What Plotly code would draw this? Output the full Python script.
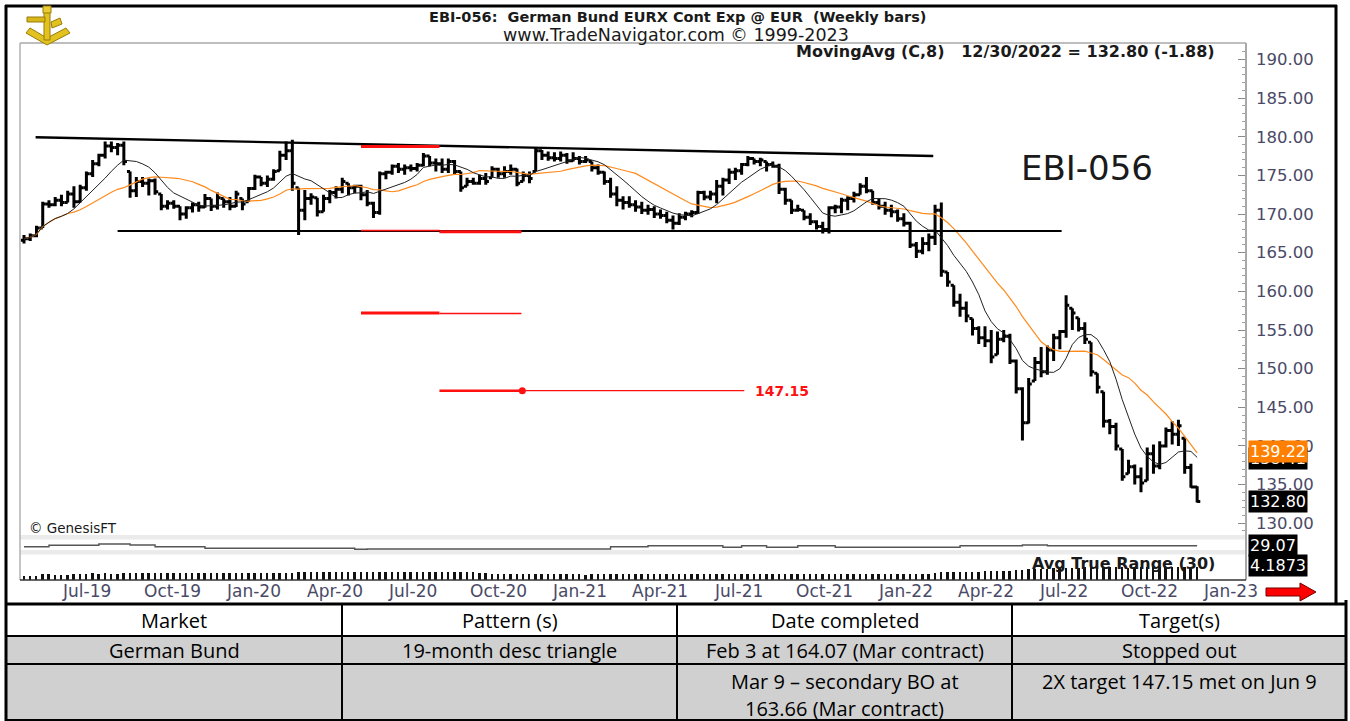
import pandas as pd
import numpy as np
import plotly.graph_objects as go

W, H = 1350, 721
def px(x):
    return x / W
def py(y):
    return 1 - y / H

# ---------------- data (weekly bars) ----------------
last_date = "2022-12-30"

opens = [
    166.6, 166.8, 167.2, 168.2, 171.3, 171.2, 171.8, 171.5, 172.6, 171.6,
    173.4, 175.2, 176.5, 177.6, 178.8, 178.6, 178.9, 175.5, 173.0, 174.2,
    174.0, 174.3, 172.6, 171.0, 171.4, 171.0, 170.0, 170.8, 171.2, 170.9,
    172.0, 171.0, 172.0, 171.6, 171.0, 172.0, 171.6, 173.3, 174.8, 174.0,
    174.5, 175.6, 177.6, 178.2, 173.4, 170.5, 172.0, 172.1, 170.3, 172.0,
    172.8, 173.2, 174.0, 173.4, 173.6, 172.5, 171.4, 170.2, 175.2, 175.4,
    176.2, 175.8, 176.0, 175.9, 176.3, 177.5, 176.6, 176.5, 175.8, 176.8,
    175.5, 173.6, 174.2, 174.0, 174.6, 174.7, 175.8, 175.2, 175.5, 175.8,
    174.2, 175.0, 175.5, 178.2, 177.6, 177.3, 177.2, 177.6, 176.9, 177.2,
    176.8, 176.8, 176.0, 175.4, 174.2, 172.6, 171.8, 171.5, 171.2, 170.9,
    170.5, 170.6, 170.0, 169.8, 169.2, 168.8, 169.6, 170.0, 170.2, 172.8,
    172.2, 172.6, 173.6, 174.4, 175.4, 175.6, 176.4, 177.2, 176.8, 176.8,
    176.4, 176.2, 173.2, 171.8, 170.5, 170.5, 169.6, 169.0, 168.4, 168.0,
    170.8, 170.9, 171.8, 172.0, 172.5, 173.6, 173.0, 171.5, 171.0, 170.5,
    170.3, 169.4, 168.8, 166.0, 165.2, 166.2, 167.0, 170.5, 162.5, 160.8,
    158.6, 157.8, 156.5, 155.2, 154.0, 153.6, 151.8, 153.8, 154.2, 151.0,
    147.4, 143.0, 148.4, 150.8, 149.6, 152.4, 154.0, 154.8, 157.8, 156.6,
    155.2, 153.4, 149.4, 147.0, 143.2, 142.5, 139.6, 136.4, 137.3, 136.0,
    135.5, 139.0, 137.4, 140.0, 142.0, 141.5, 141.0, 137.2, 134.68,
]
highs = [
    167.3, 167.5, 168.5, 171.6, 171.8, 172.2, 172.5, 173.0, 173.6, 173.8,
    175.5, 177.0, 177.8, 179.4, 179.4, 179.2, 179.4, 175.5, 174.8, 174.8,
    174.6, 174.6, 172.6, 171.8, 171.8, 171.0, 171.0, 171.5, 171.6, 172.6,
    172.0, 172.8, 172.0, 172.2, 173.0, 172.0, 173.5, 175.1, 174.8, 175.0,
    175.8, 178.2, 179.4, 179.6, 173.4, 173.1, 172.7, 172.1, 172.5, 173.1,
    173.6, 174.7, 174.0, 173.8, 173.8, 173.1, 171.6, 175.5, 175.6, 176.4,
    176.6, 176.4, 176.4, 176.6, 177.9, 177.5, 177.2, 177.2, 177.2, 177.0,
    175.5, 174.7, 174.7, 175.1, 175.3, 176.2, 176.0, 176.2, 176.4, 175.9,
    175.5, 175.5, 178.6, 178.3, 178.1, 178.0, 178.1, 177.9, 178.0, 177.5,
    177.5, 176.8, 176.4, 175.5, 174.7, 173.6, 172.3, 172.3, 171.8, 171.6,
    171.2, 171.0, 170.6, 170.3, 169.8, 170.1, 170.3, 170.5, 173.0, 173.0,
    173.0, 174.4, 174.7, 175.9, 176.0, 176.6, 177.5, 177.2, 177.3, 176.8,
    176.8, 176.5, 173.4, 171.8, 171.2, 170.5, 170.1, 169.2, 169.0, 171.0,
    171.2, 172.1, 172.3, 172.9, 174.0, 174.8, 173.0, 172.0, 171.6, 171.2,
    170.6, 170.1, 169.0, 166.4, 167.0, 167.5, 171.2, 171.5, 162.5, 160.8,
    159.7, 158.7, 156.5, 155.5, 155.5, 155.0, 154.8, 155.0, 154.5, 151.2,
    147.6, 148.8, 151.5, 152.8, 153.0, 154.5, 155.0, 159.5, 157.8, 156.6,
    156.0, 153.4, 149.4, 147.0, 143.5, 143.0, 139.6, 138.2, 137.6, 137.2,
    139.8, 140.2, 140.6, 142.4, 143.2, 143.4, 141.0, 137.7, 134.8,
]
lows = [
    166.2, 166.5, 167.0, 168.2, 170.8, 171.0, 171.0, 171.5, 170.8, 171.5,
    173.0, 174.8, 176.2, 177.2, 178.0, 177.6, 176.3, 172.1, 172.2, 173.5,
    172.4, 172.5, 170.5, 170.6, 170.7, 169.2, 169.4, 170.2, 170.3, 170.8,
    170.4, 170.6, 170.8, 170.5, 170.9, 170.5, 171.6, 173.1, 173.6, 173.5,
    174.3, 175.6, 177.0, 173.0, 167.3, 169.2, 171.2, 169.7, 170.3, 171.4,
    172.0, 172.7, 172.4, 172.7, 171.8, 171.0, 169.5, 169.9, 174.5, 175.1,
    175.3, 175.1, 175.5, 175.5, 176.2, 176.2, 175.5, 175.3, 175.3, 175.1,
    172.9, 173.6, 173.8, 173.8, 173.8, 174.7, 174.7, 174.7, 175.1, 173.6,
    174.2, 174.0, 175.5, 177.0, 176.9, 176.8, 176.8, 176.5, 176.8, 176.4,
    176.6, 175.5, 175.1, 173.8, 172.1, 171.0, 170.6, 170.8, 170.3, 170.0,
    169.9, 169.5, 169.4, 168.8, 168.0, 168.6, 169.2, 169.6, 170.0, 171.8,
    171.8, 171.4, 172.4, 173.9, 174.4, 175.1, 176.2, 176.4, 176.2, 175.5,
    176.0, 172.6, 171.2, 170.0, 170.3, 169.2, 168.6, 168.0, 167.5, 167.5,
    170.1, 170.1, 170.5, 171.5, 172.5, 172.7, 171.2, 170.6, 169.9, 169.6,
    169.0, 168.4, 165.6, 164.3, 164.8, 165.2, 166.0, 161.9, 160.6, 158.0,
    156.7, 156.0, 154.3, 153.2, 152.8, 150.7, 151.8, 153.4, 150.6, 146.8,
    140.7, 142.9, 148.4, 148.9, 149.2, 151.0, 152.5, 154.0, 155.0, 154.8,
    153.2, 149.0, 146.8, 142.4, 141.5, 139.4, 135.5, 136.4, 135.0, 134.0,
    135.5, 136.4, 137.0, 139.8, 140.2, 140.0, 136.4, 134.6, 132.7,
]
closes = [
    166.8, 167.2, 168.2, 171.3, 171.2, 171.8, 171.5, 172.6, 171.6, 173.4,
    175.2, 176.5, 177.6, 178.8, 178.6, 178.9, 176.8, 173.0, 174.2, 174.0,
    174.3, 172.9, 171.0, 171.4, 171.0, 170.0, 170.8, 171.2, 170.9, 172.0,
    171.0, 172.1, 171.6, 171.0, 172.6, 171.3, 173.3, 174.8, 174.0, 174.5,
    175.5, 177.6, 178.2, 174.0, 170.5, 172.0, 172.2, 170.3, 172.0, 172.8,
    173.2, 174.2, 173.4, 173.6, 172.5, 171.4, 170.2, 175.2, 175.4, 176.2,
    175.8, 176.0, 175.9, 176.3, 177.5, 176.6, 176.5, 175.8, 176.8, 175.5,
    173.4, 174.2, 174.0, 174.6, 174.2, 175.8, 175.2, 175.5, 175.8, 174.0,
    175.0, 174.6, 178.2, 177.6, 177.3, 177.2, 177.6, 176.9, 177.2, 176.8,
    177.0, 176.0, 175.4, 174.2, 172.6, 171.8, 171.5, 171.2, 170.9, 170.5,
    170.6, 170.0, 169.8, 169.2, 168.8, 169.6, 170.0, 170.2, 172.8, 172.2,
    172.6, 173.6, 174.4, 175.4, 175.6, 176.4, 177.2, 176.8, 177.0, 176.4,
    176.2, 173.2, 171.8, 170.5, 170.6, 169.6, 169.0, 168.4, 168.0, 170.8,
    170.9, 171.8, 172.0, 172.5, 173.6, 173.0, 171.5, 171.0, 170.5, 170.3,
    169.4, 168.8, 166.0, 165.2, 166.2, 167.0, 170.5, 162.6, 161.2, 158.6,
    157.8, 156.8, 155.2, 154.0, 153.6, 151.5, 153.8, 154.2, 151.0, 147.4,
    143.0, 148.0, 150.8, 149.6, 152.4, 154.0, 154.8, 158.2, 157.2, 155.2,
    153.8, 149.6, 147.6, 143.2, 142.5, 140.0, 136.0, 137.3, 136.0, 135.2,
    139.0, 137.4, 140.0, 142.0, 141.5, 142.6, 137.2, 134.68, 132.80,
]

# second indicator line in the thin strip (value 29.07 at the end)
aux_bar_index = [0, 4, 12, 17, 21, 29, 53, 55, 94, 100, 112, 115, 119, 124, 130, 150, 160, 164, 188]
aux_values = [28.07, 29.47, 30.77, 29.77, 28.07, 26.47, 25.47, 25.77, 28.07, 29.07,
              27.47, 29.07, 27.47, 29.07, 27.47, 29.07, 29.77, 29.07, 29.07]

# pattern lines
resistance_dates = ["2019-06-06", "2022-03-09"]
resistance_prices = [179.93, 177.51]
support_dates = ["2019-09-06", "2022-07-31"]
support_price = 167.81

red_x0 = ["2020-06-05", "2020-06-05", "2020-09-01", "2020-06-05", "2020-09-01", "2020-09-01", "2020-12-03"]
red_x1 = ["2020-09-01", "2020-09-01", "2020-12-02", "2020-09-01", "2020-12-02", "2020-12-03", "2021-08-09"]
red_y = [178.74, 167.87, 167.70, 157.20, 157.15, 147.15, 147.15]
red_w = [3, 1.5, 3, 3, 1.5, 2.5, 1.3]
target_date = "2020-12-03"
target_price = 147.15
target_label = "147.15"

ma_fast_label = "138.41"
ma_slow_label = "139.22"
last_close_label = "132.80"
aux_label = "29.07"
atr_label = "4.1873"

month_labels = ["Jul-19", "Oct-19", "Jan-20", "Apr-20", "Jul-20", "Oct-20", "Jan-21", "Apr-21",
                "Jul-21", "Oct-21", "Jan-22", "Apr-22", "Jul-22", "Oct-22", "Jan-23"]
month_dates = ["2019-07-01", "2019-10-01", "2020-01-01", "2020-04-01", "2020-07-01", "2020-10-01",
               "2021-01-01", "2021-04-01", "2021-07-01", "2021-10-01", "2022-01-01", "2022-04-01",
               "2022-07-01", "2022-10-01", "2023-01-01"]

table_headers = ["Market", "Pattern (s)", "Date completed", "Target(s)"]
table_row1 = ["German Bund", "19-month desc triangle", "Feb 3 at 164.07 (Mar contract)", "Stopped out"]
table_row2 = [[], [], ["Mar 9 \u2013 secondary BO at", "163.66 (Mar contract)"], ["2X target 147.15 met on Jun 9"]]

# ---------------- derived series ----------------
n = len(closes)
dates = pd.date_range(end=last_date, periods=n, freq="W-FRI")
c = pd.Series(closes)
h = pd.Series(highs)
l = pd.Series(lows)
ma8 = c.rolling(8, min_periods=1).mean()
ma_slow = c.rolling(17, min_periods=1).mean()
pc = c.shift(1)
tr = pd.concat([h - l, (h - pc).abs(), (l - pc).abs()], axis=1).max(axis=1)
atr = tr.rolling(30, min_periods=1).mean()
aux_dates = [dates[i] for i in aux_bar_index]

FONT = "DejaVu Sans"
TXT = "#1a1a1a"
AXT = "#4a4a66"

fig = go.Figure()

fig.add_trace(go.Ohlc(
    x=dates, open=opens, high=highs, low=lows, close=closes,
    increasing=dict(line=dict(color="black", width=3)),
    decreasing=dict(line=dict(color="black", width=3)),
    tickwidth=0.5, hoverinfo="skip", xaxis="x", yaxis="y"))

fig.add_trace(go.Scatter(x=dates, y=ma_slow, mode="lines",
                         line=dict(color="#ff8a1c", width=1.2), hoverinfo="skip"))
fig.add_trace(go.Scatter(x=dates, y=ma8, mode="lines",
                         line=dict(color="#222222", width=1), hoverinfo="skip"))

# pattern lines
fig.add_trace(go.Scatter(x=resistance_dates, y=resistance_prices, mode="lines",
                         line=dict(color="black", width=2.4), hoverinfo="skip"))
fig.add_trace(go.Scatter(x=support_dates, y=[support_price, support_price], mode="lines",
                         line=dict(color="black", width=2.2), hoverinfo="skip"))
for x0, x1, yv, wv in zip(red_x0, red_x1, red_y, red_w):
    fig.add_trace(go.Scatter(x=[x0, x1], y=[yv, yv], mode="lines",
                             line=dict(color="#ff1010", width=wv), hoverinfo="skip"))
fig.add_trace(go.Scatter(x=[target_date], y=[target_price], mode="markers",
                         marker=dict(color="#ff1010", size=7), hoverinfo="skip"))

# lower strip: aux line and ATR histogram
fig.add_trace(go.Scatter(x=aux_dates, y=aux_values, mode="lines", line_shape="hv",
                         line=dict(color="#555555", width=1.4), xaxis="x2", yaxis="y3",
                         hoverinfo="skip"))
fig.add_trace(go.Bar(x=dates, y=atr, xaxis="x2", yaxis="y2",
                     marker=dict(color="#111111", line=dict(width=0)),
                     width=2.2 * 24 * 3600 * 1000, hoverinfo="skip"))

x_range = [dates[0] - pd.Timedelta(days=4.5), dates[-1] + pd.Timedelta(days=54.8)]

fig.update_layout(
    width=W, height=H, margin=dict(l=0, r=0, t=0, b=0),
    paper_bgcolor="white", plot_bgcolor="rgba(0,0,0,0)", showlegend=False,
    font=dict(family=FONT, color=TXT),
    xaxis=dict(domain=[px(20), px(1246)], range=x_range, anchor="y",
               showticklabels=False, showgrid=False, zeroline=False, ticks="",
               rangeslider=dict(visible=False), showline=False),
    yaxis=dict(domain=[py(536), py(43)], range=[128.35, 192.13], side="right", anchor="x",
               ticks="inside", ticklen=8, tickwidth=1, tickcolor="#8a8a8a",
               dtick=5, tick0=0, tickformat=".2f", showline=False, showgrid=False,
               zeroline=False, ticklabelstandoff=9,
               minor=dict(ticks="inside", ticklen=4, dtick=1, tickcolor="#a0a0a0", showgrid=False),
               tickfont=dict(family=FONT, size=16.5, color=AXT)),
    xaxis2=dict(domain=[px(20), px(1246)], matches="x", anchor="y2", visible=False),
    yaxis2=dict(domain=[py(580), py(539)], range=[0, 11.5], anchor="x2", visible=False),
    yaxis3=dict(domain=[py(553), py(539)], range=[21.77, 35.77], anchor="x2", visible=False),
    bargap=0,
)

shapes = []
def line(x0, y0, x1, y1, color, w, layer="above"):
    shapes.append(dict(type="line", xref="paper", yref="paper", x0=px(x0), y0=py(y0),
                       x1=px(x1), y1=py(y1), line=dict(color=color, width=w), layer=layer))
def rect(x0, y0, x1, y1, fill, layer="below"):
    shapes.append(dict(type="rect", xref="paper", yref="paper", x0=px(x0), y0=py(y0),
                       x1=px(x1), y1=py(y1), fillcolor=fill, line=dict(width=0), layer=layer))
def path(pts, fill, lc, lw):
    d = "M " + " L ".join(f"{px(a):.5f},{py(b):.5f}" for a, b in pts) + " Z"
    shapes.append(dict(type="path", xref="paper", yref="paper", path=d, fillcolor=fill,
                       line=dict(color=lc, width=lw), layer="above"))

# strip bands
rect(20, 535, 1246, 539.5, "#ebebeb")
rect(20, 550, 1246, 554.5, "#ebebeb")
# plot frame
line(20, 43, 1246, 43, "#a8a8a8", 1.5)
line(20, 43, 20, 580, "#b0b0b0", 1.5)
line(1246, 43, 1246, 580, "#a8a8a8", 2)
line(20, 580, 1246, 580, "#333333", 1.5)
# outer frame
line(5, 6, 1337, 6, "black", 3)
line(6, 5, 6, 721, "black", 3)
line(1336, 5, 1336, 604, "black", 3)
line(1346, 600, 1346, 721, "black", 3)
# table
rect(6, 636, 1346, 721, "#d0d0d0")
line(5, 604, 1347, 604, "black", 3)
line(6, 636, 1346, 636, "black", 2)
line(6, 664, 1346, 664, "black", 2)
line(6, 720, 1346, 720, "black", 2)
for xv in [342, 677, 1012]:
    line(xv, 604, xv, 721, "black", 2)

# red arrow
path([(1266, 588), (1300, 588), (1300, 583), (1316, 592), (1300, 601), (1300, 596), (1266, 596)],
     "#ff0000", "#700000", 1)
# logo (sextant)
path([(26, 33), (47, 45), (70, 33), (66, 28), (47, 38), (30, 28)], "#e2c21e", "#9a7b0a", 1)
path([(44, 12), (50, 12), (50, 40), (44, 40)], "#e2c21e", "#9a7b0a", 1)
path([(27, 17), (45, 17), (45, 22), (27, 22)], "#d8b818", "#9a7b0a", 1)
path([(43, 6), (51, 6), (51, 13), (43, 13)], "#e8cc30", "#9a7b0a", 1)
path([(51, 22), (60, 18), (62, 24), (52, 28)], "#e2c21e", "#9a7b0a", 1)
fig.update_layout(shapes=shapes)

ann = []
def text(x, y, s, size, bold=False, color=TXT, xanchor="center", family=FONT):
    ann.append(dict(x=px(x), y=py(y), xref="paper", yref="paper", text=f"<b>{s}</b>" if bold else s,
                    showarrow=False, xanchor=xanchor, yanchor="middle",
                    font=dict(family=family, size=size, color=color)))

NB = "\u00a0"
text(677, 17, f"EBI-056:{NB}{NB}German Bund EURX Cont Exp @ EUR{NB}{NB}(Weekly bars)", 14.5, bold=True)
text(676, 35, "www.TradeNavigator.com \u00a9 1999-2023", 17.5)
text(1217, 52, f"MovingAvg (C,8){NB}{NB}{NB}12/30/2022 = 132.80 (-1.88)", 16, bold=True, xanchor="right")
text(1087, 168, "EBI-056", 34)
text(27, 528, "\u00a9 GenesisFT", 13.5, xanchor="left")
text(1217, 563, "Avg True Range (30)", 16, bold=True, xanchor="right")

# month labels
for lab, d in zip(month_labels, month_dates):
    ann.append(dict(x=d, y=py(591), xref="x", yref="paper", text=lab, showarrow=False,
                    xanchor="left", yanchor="middle", xshift=2,
                    font=dict(family=FONT, size=17, color=AXT)))

# target label
ann.append(dict(x=red_x1[-1], y=target_price, xref="x", yref="y", text=f"<b>{target_label}</b>",
                showarrow=False, xanchor="left", yanchor="middle", xshift=9,
                font=dict(family=FONT, size=14, color="#ff1010")))

# value boxes on the right axis
def box(yv, yref, s, bg):
    ann.append(dict(x=px(1248), y=yv, xref="paper", yref=yref, text=s, showarrow=False,
                    xanchor="left", yanchor="middle", bgcolor=bg, borderpad=1,
                    font=dict(family=FONT, size=16, color="white")))
box(float(ma_fast_label), "y", ma_fast_label, "black")
box(float(ma_slow_label), "y", ma_slow_label, "#ff8000")
box(float(last_close_label), "y", last_close_label, "black")
box(float(aux_label), "y3", aux_label, "black")
box(float(atr_label), "y2", atr_label, "black")

# table text
col_centers = [174, 509.5, 844.5, 1179]
TF = "Open Sans"
for cx, s in zip(col_centers, table_headers):
    text(cx, 620, s, 20, family=TF, color="black")
for cx, s in zip(col_centers, table_row1):
    text(cx, 650, s, 20, family=TF, color="black")
for cx, lines in zip(col_centers, table_row2):
    for k, s in enumerate(lines):
        text(cx, 681 + 27 * k, s, 20, family=TF, color="black")

fig.update_layout(annotations=ann)
fig.write_html("out.html", config={"displayModeBar": False},
               post_script="document.body.style.margin='0px';document.body.style.overflow='hidden';")
